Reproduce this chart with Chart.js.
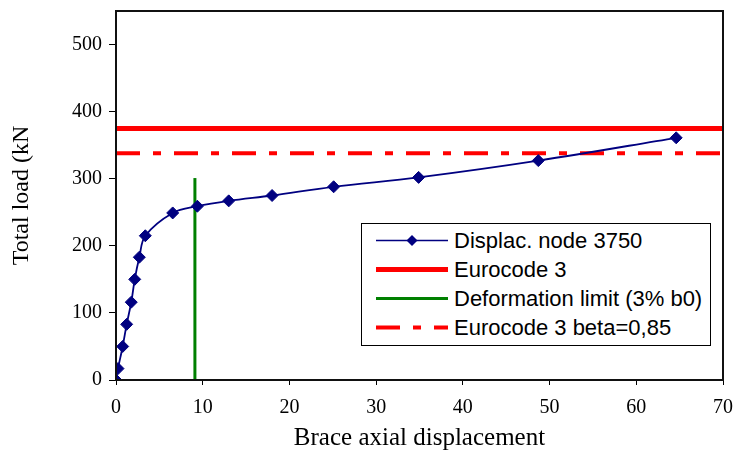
<!DOCTYPE html>
<html>
<head>
<meta charset="utf-8">
<script src="https://cdn.jsdelivr.net/npm/chart.js@4.4.1/dist/chart.umd.min.js"></script>
<style>
  body { margin: 0; background: #fff; }
  #wrap { position: relative; width: 734px; height: 464px; }
  #legend {
    position: absolute; left: 361px; top: 223px; width: 348px; height: 119px;
    border: 1px solid #000; background: #fff; padding-top: 2px;
    font-family: "Liberation Sans", Arial, sans-serif; font-size: 22px; color: #000;
  }
  #legend .row { display: flex; align-items: center; height: 29px; }
  #legend svg { margin-left: 14px; margin-right: 6px; flex: none; }
</style>
</head>
<body>
<div id="wrap">
  <canvas id="chart" width="734" height="464"></canvas>
  <div id="legend"></div>
</div>
<script>
// measured curve
const displacement = [0, 0.23, 0.77, 1.23, 1.76, 2.16, 2.69, 3.38, 6.54, 9.38, 13.0, 18.0, 25.1, 34.9, 48.7, 64.6];
const totalLoad = [0, 17, 50, 83, 116, 150, 183, 215, 249, 259, 267, 275, 288, 302, 327, 361];

// reference limits
const eurocodeLoad = 375;
const eurocodeBetaLoad = 338;
const deformLimitX = 9.1;
const deformLimitTop = 301;

const xRange = [0, 70];
const yRange = [0, 550];

const seriesLabels = ["Displac. node 3750", "Eurocode 3", "Deformation limit (3% b0)", "Eurocode 3 beta=0,85"];

const serif = '"Liberation Serif", "Times New Roman", serif';

const curvePoints = displacement.map((x, i) => ({ x, y: totalLoad[i] }));

const data = {
  datasets: [
    {
      label: seriesLabels[0],
      data: curvePoints,
      borderColor: "#000080",
      backgroundColor: "#000080",
      borderWidth: 1.8,
      tension: 0.35,
      pointStyle: "rectRot",
      pointRadius: 6,
      pointBorderWidth: 1,
      pointBackgroundColor: "#000080",
      pointBorderColor: "#000080",
    },
    {
      label: seriesLabels[1],
      data: [{ x: xRange[0], y: eurocodeLoad }, { x: xRange[1], y: eurocodeLoad }],
      borderColor: "#ff0000",
      borderWidth: 5,
      pointRadius: 0,
    },
    {
      label: seriesLabels[2],
      data: [{ x: deformLimitX, y: 0 }, { x: deformLimitX, y: deformLimitTop }],
      borderColor: "#008000",
      borderWidth: 3,
      pointRadius: 0,
    },
    {
      label: seriesLabels[3],
      data: [{ x: xRange[0], y: eurocodeBetaLoad }, { x: xRange[1], y: eurocodeBetaLoad }],
      borderColor: "#ff0000",
      borderWidth: 4,
      borderDash: [24, 13, 8, 13],
      pointRadius: 0,
    },
  ],
};

const framePlugin = {
  id: "frame",
  afterDraw(chart) {
    const { ctx, chartArea: a } = chart;
    ctx.save();
    ctx.strokeStyle = "#111";
    ctx.lineWidth = 2;
    ctx.strokeRect(a.left, a.top, a.right - a.left, a.bottom - a.top);
    ctx.restore();
  },
};

const config = {
  type: "line",
  data,
  options: {
    responsive: false,
    animation: false,
    devicePixelRatio: 1,
    layout: { padding: { top: 11, right: 11, left: 0, bottom: 0 } },
    plugins: {
      legend: { display: false },
      tooltip: { enabled: false },
    },
    scales: {
      x: {
        type: "linear",
        min: xRange[0],
        max: xRange[1],
        ticks: { stepSize: 10, color: "#000", font: { family: serif, size: 20 }, padding: 11 },
        grid: { drawOnChartArea: false, drawTicks: true, tickLength: 5, color: "#000" },
        border: { display: true, color: "#000", width: 2 },
        title: {
          display: true,
          text: "Brace axial displacement",
          color: "#000",
          font: { family: serif, size: 25 },
          padding: { top: 0, bottom: 11 },
        },
        afterFit(scale) {
          scale.height = 84;
          scale.paddingLeft = 0;
          scale.paddingRight = 0;
        },
      },
      y: {
        type: "linear",
        min: yRange[0],
        max: yRange[1],
        ticks: { stepSize: 100, color: "#000", font: { family: serif, size: 20 }, padding: 7 },
        afterBuildTicks(scale) { scale.ticks = scale.ticks.filter((t) => t.value % 100 === 0); },
        grid: { drawOnChartArea: false, drawTicks: true, tickLength: 7, color: "#000" },
        border: { display: true, color: "#000", width: 2 },
        title: {
          display: true,
          text: "Total load (kN",
          color: "#000",
          font: { family: serif, size: 24 },
          padding: { top: 7, bottom: 0 },
        },
        afterFit(scale) {
          scale.width = 116;
          scale.paddingTop = 0;
          scale.paddingBottom = 0;
        },
      },
    },
  },
  plugins: [framePlugin],
};

const chart = new Chart(document.getElementById("chart").getContext("2d"), config);

// legend box inside the plot, built from the datasets
function buildLegend(chart) {
  const box = document.getElementById("legend");
  const ns = "http://www.w3.org/2000/svg";
  chart.data.datasets.forEach((ds) => {
    const row = document.createElement("div");
    row.className = "row";
    const svg = document.createElementNS(ns, "svg");
    svg.setAttribute("width", "72");
    svg.setAttribute("height", "29");
    const line = document.createElementNS(ns, "line");
    line.setAttribute("x1", "0");
    line.setAttribute("x2", "72");
    line.setAttribute("y1", "14.5");
    line.setAttribute("y2", "14.5");
    line.setAttribute("stroke", ds.borderColor);
    line.setAttribute("stroke-width", ds.pointStyle ? 1.4 : ds.borderWidth);
    if (ds.borderDash) line.setAttribute("stroke-dasharray", ds.borderDash.join(" "));
    svg.appendChild(line);
    if (ds.pointStyle) {
      const dia = document.createElementNS(ns, "polygon");
      dia.setAttribute("points", "36,9 41.5,14.5 36,20 30.5,14.5");
      dia.setAttribute("fill", ds.pointBackgroundColor);
      svg.appendChild(dia);
    }
    const text = document.createElement("span");
    text.textContent = ds.label;
    row.appendChild(svg);
    row.appendChild(text);
    box.appendChild(row);
  });
}
buildLegend(chart);
</script>
</body>
</html>
